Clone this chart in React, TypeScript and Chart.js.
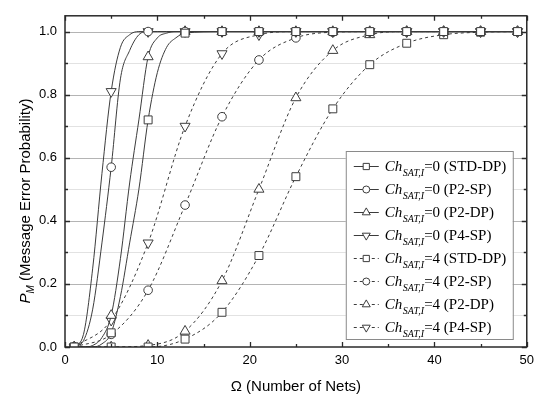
import React, { useEffect, useRef } from 'react';
import { Chart, registerables } from 'chart.js';

Chart.register(...registerables);

// x positions: fine sampling for the steep Ch=0 curves, marker positions every 4 nets
const xFine = [1, 2, 3, 4, 5, 6, 7, 8, 9, 10, 11, 12, 13, 17, 21, 25, 29, 33, 37, 41, 45, 49];
const xMarker = [1, 5, 9, 13, 17, 21, 25, 29, 33, 37, 41, 45, 49];

// Ch_SAT,I = 0 (values at xFine)
const ch0StdDp = [0, 0, 0, 0.01, 0.045, 0.16, 0.33, 0.5, 0.72, 0.87, 0.95, 0.98, 0.995, 1, 1, 1, 1, 1, 1, 1, 1, 1];
const ch0P2Sp = [0, 0.02, 0.12, 0.33, 0.57, 0.85, 0.94, 0.99, 1, 1, 1, 1, 1, 1, 1, 1, 1, 1, 1, 1, 1, 1];
const ch0P2Dp = [0, 0, 0.005, 0.03, 0.1, 0.28, 0.52, 0.72, 0.92, 0.98, 0.995, 1, 1, 1, 1, 1, 1, 1, 1, 1, 1, 1];
const ch0P4Sp = [0, 0.04, 0.25, 0.55, 0.81, 0.95, 0.99, 1, 1, 1, 1, 1, 1, 1, 1, 1, 1, 1, 1, 1, 1, 1];

// Ch_SAT,I = 4 (values at xMarker)
const ch4StdDp = [0, 0, 0, 0.025, 0.11, 0.29, 0.54, 0.755, 0.895, 0.963, 0.99, 0.998, 1];
const ch4P2Sp = [0, 0.04, 0.18, 0.45, 0.73, 0.91, 0.98, 0.998, 1, 1, 1, 1, 1];
const ch4P2Dp = [0, 0, 0.005, 0.05, 0.21, 0.5, 0.79, 0.94, 0.99, 1, 1, 1, 1];
const ch4P4Sp = [0, 0.085, 0.33, 0.7, 0.93, 0.99, 1, 1, 1, 1, 1, 1, 1];

const seriesLabels = ['(STD-DP)', '(P2-SP)', '(P2-DP)', '(P4-SP)'];
const chValues = ['0', '4'];

const X_MIN = 0;
const X_MAX = 50;
const Y_MIN = 0;
const Y_MAX = 1.05;

const LINE = '#3c3c3c';

type Shape = { style: string; rotation: number; radius: number; legendRadius: number };
const shapes: Shape[] = [
  { style: 'rect', rotation: 0, radius: 5.6, legendRadius: 4.4 },
  { style: 'circle', rotation: 0, radius: 4.3, legendRadius: 3.5 },
  { style: 'triangle', rotation: 0, radius: 5.8, legendRadius: 4.6 },
  { style: 'triangle', rotation: 180, radius: 5.8, legendRadius: 4.6 },
];

function isMarker(x: number) {
  return (x - 1) % 4 === 0;
}

function drawShape(ctx: CanvasRenderingContext2D, s: Shape, x: number, y: number, r: number) {
  ctx.save();
  ctx.fillStyle = '#fff';
  ctx.strokeStyle = LINE;
  ctx.lineWidth = 1;
  ctx.setLineDash([]);
  ctx.beginPath();
  if (s.style === 'rect') {
    const h = r * Math.SQRT1_2;
    ctx.rect(x - h, y - h, 2 * h, 2 * h);
  } else if (s.style === 'circle') {
    ctx.arc(x, y, r, 0, Math.PI * 2);
  } else {
    let a = (s.rotation * Math.PI) / 180;
    ctx.moveTo(x + Math.sin(a) * r, y - Math.cos(a) * r);
    a += (2 * Math.PI) / 3;
    ctx.lineTo(x + Math.sin(a) * r, y - Math.cos(a) * r);
    a += (2 * Math.PI) / 3;
    ctx.lineTo(x + Math.sin(a) * r, y - Math.cos(a) * r);
    ctx.closePath();
  }
  ctx.fill();
  ctx.stroke();
  ctx.restore();
}

const framePlugin = {
  id: 'framePlugin',
  beforeDatasetsDraw(chart: any) {
    const { ctx, chartArea: ca, scales } = chart;
    const ys = scales.y;
    ctx.save();
    for (let i = 1; i <= 10; i++) {
      const v = i / 10;
      const py = Math.round(ys.getPixelForValue(v)) + 0.5;
      ctx.strokeStyle = i % 2 === 0 ? '#b4b4b4' : '#e2e2e2';
      ctx.lineWidth = 1;
      ctx.beginPath();
      ctx.moveTo(ca.left, py);
      ctx.lineTo(ca.right, py);
      ctx.stroke();
    }
    ctx.restore();
  },
  afterDatasetsDraw(chart: any) {
    const { ctx, chartArea: ca, scales } = chart;
    const xs = scales.x;
    const ys = scales.y;
    ctx.save();
    ctx.strokeStyle = '#2a2a2a';
    ctx.lineWidth = 1.3;
    // ticks x
    for (let v = 0; v <= 50; v += 5) {
      const px = Math.round(xs.getPixelForValue(v)) + 0.5;
      const len = v % 10 === 0 ? 5 : 3;
      ctx.beginPath();
      ctx.moveTo(px, ca.bottom);
      ctx.lineTo(px, ca.bottom - len);
      ctx.moveTo(px, ca.top);
      ctx.lineTo(px, ca.top + len);
      ctx.stroke();
    }
    for (let i = 0; i <= 10; i++) {
      const py = Math.round(ys.getPixelForValue(i / 10)) + 0.5;
      const len = i % 2 === 0 ? 5 : 3;
      ctx.beginPath();
      ctx.moveTo(ca.left, py);
      ctx.lineTo(ca.left + len, py);
      ctx.moveTo(ca.right, py);
      ctx.lineTo(ca.right - len, py);
      ctx.stroke();
    }
    ctx.lineWidth = 1.5;
    ctx.strokeRect(ca.left, ca.top, ca.right - ca.left, ca.bottom - ca.top);
    ctx.restore();
  },
  afterDraw(chart: any) {
    const { ctx, chartArea: ca } = chart;
    ctx.save();
    // legend
    const bx = ca.right - 181;
    const by = 151;
    const bw = 167;
    const bh = ca.bottom - 8 - by;
    ctx.fillStyle = '#fff';
    ctx.fillRect(bx, by, bw, bh);
    ctx.strokeStyle = '#8a8a8a';
    ctx.lineWidth = 1;
    ctx.strokeRect(bx + 0.5, by + 0.5, bw, bh);
    let row = 0;
    for (let c = 0; c < 2; c++) {
      for (let s = 0; s < 4; s++) {
        const y = by + 15 + row * 23;
        const lx0 = bx + 8;
        const lx1 = bx + 33;
        ctx.strokeStyle = LINE;
        ctx.lineWidth = 1;
        ctx.setLineDash(c === 1 ? [3, 3] : []);
        ctx.beginPath();
        ctx.moveTo(lx0, y + 0.5);
        ctx.lineTo(lx1, y + 0.5);
        ctx.stroke();
        ctx.setLineDash([]);
        drawShape(ctx, shapes[s], (lx0 + lx1) / 2, y + 0.5, shapes[s].legendRadius);
        let tx = bx + 39;
        ctx.fillStyle = '#000';
        ctx.textBaseline = 'alphabetic';
        ctx.textAlign = 'left';
        ctx.font = 'italic 15px "Liberation Serif"';
        ctx.fillText('Ch', tx, y + 5);
        tx += ctx.measureText('Ch').width + 0.5;
        ctx.font = 'italic 10px "Liberation Serif"';
        ctx.fillText('SAT,I', tx, y + 10);
        tx += ctx.measureText('SAT,I').width;
        ctx.font = '15px "Liberation Serif"';
        ctx.fillText('=' + chValues[c] + ' ' + seriesLabels[s], tx, y + 5);
        row++;
      }
    }
    // x title
    ctx.fillStyle = '#000';
    ctx.font = '15px "Liberation Sans"';
    ctx.textAlign = 'center';
    ctx.textBaseline = 'middle';
    ctx.fillText('\u03A9 (Number of Nets)', (ca.left + ca.right) / 2, 387);
    // y title
    ctx.save();
    ctx.translate(25, 201);
    ctx.rotate(-Math.PI / 2);
    ctx.textAlign = 'left';
    ctx.textBaseline = 'alphabetic';
    const fP = 'italic 15px "Liberation Sans"';
    const fM = 'italic 10px "Liberation Sans"';
    const fR = '15px "Liberation Sans"';
    const rest = ' (Message Error Probability)';
    ctx.font = fP;
    const wP = ctx.measureText('P').width;
    ctx.font = fM;
    const wM = ctx.measureText('M').width;
    ctx.font = fR;
    const wR = ctx.measureText(rest).width;
    let tx = -(wP + wM + wR) / 2;
    ctx.font = fP;
    ctx.fillText('P', tx, 5);
    tx += wP;
    ctx.font = fM;
    ctx.fillText('M', tx, 9);
    tx += wM;
    ctx.font = fR;
    ctx.fillText(rest, tx, 5);
    ctx.restore();
    ctx.restore();
  },
};

export default function App() {
  const ref = useRef<HTMLCanvasElement | null>(null);
  useEffect(() => {
    if (!ref.current) return;
    const solid = [ch0StdDp, ch0P2Sp, ch0P2Dp, ch0P4Sp];
    const dashed = [ch4StdDp, ch4P2Sp, ch4P2Dp, ch4P4Sp];
    const datasets: any[] = [];
    solid.forEach((arr, s) => {
      datasets.push({
        label: 'Ch_SAT,I=0 ' + seriesLabels[s],
        data: xFine.map((x, i) => ({ x, y: arr[i] })),
        borderColor: LINE,
        borderWidth: 1,
        cubicInterpolationMode: 'monotone',
        pointStyle: shapes[s].style,
        rotation: shapes[s].rotation,
        pointRadius: (c: any) => (c.raw && isMarker(c.raw.x) ? shapes[s].radius : 0),
        pointBackgroundColor: '#fff',
        pointBorderColor: LINE,
        pointBorderWidth: 1,
        fill: false,
      });
    });
    dashed.forEach((arr, s) => {
      datasets.push({
        label: 'Ch_SAT,I=4 ' + seriesLabels[s],
        data: xMarker.map((x, i) => ({ x, y: arr[i] })),
        borderColor: LINE,
        borderWidth: 1,
        borderDash: [3, 3],
        cubicInterpolationMode: 'monotone',
        pointStyle: shapes[s].style,
        rotation: shapes[s].rotation,
        pointRadius: shapes[s].radius,
        pointBackgroundColor: '#fff',
        pointBorderColor: LINE,
        pointBorderWidth: 1,
        fill: false,
      });
    });
    const chart = new Chart(ref.current, {
      type: 'line',
      data: { datasets },
      options: {
        responsive: false,
        animation: false,
        layout: { padding: { left: 0, right: 13, top: 5, bottom: 0 } },
        plugins: { legend: { display: false }, tooltip: { enabled: false } },
        events: [],
        scales: {
          x: {
            type: 'linear',
            min: X_MIN,
            max: X_MAX,
            grid: { display: false, drawTicks: false },
            border: { display: false },
            ticks: {
              stepSize: 10,
              padding: 6,
              color: '#000',
              font: { family: '"Liberation Sans"', size: 13 },
              maxRotation: 0,
            },
            afterFit: (scale: any) => {
              scale.height = 50;
            },
          },
          y: {
            type: 'linear',
            min: Y_MIN,
            max: Y_MAX,
            grid: { display: false, drawTicks: false },
            border: { display: false },
            ticks: {
              stepSize: 0.1,
              padding: 8,
              color: '#000',
              font: { family: '"Liberation Sans"', size: 13 },
              autoSkip: false,
              callback: (v: any) => {
                const t = Number(v) * 10;
                const r = Math.round(t);
                if (Math.abs(t - r) > 1e-6) return '';
                return r % 2 === 0 ? (r / 10).toFixed(1) : '';
              },
            },
            afterFit: (scale: any) => {
              scale.width = 65;
            },
          },
        },
      },
      plugins: [framePlugin],
    });
    return () => chart.destroy();
  }, []);
  return (
    <div style={{ position: 'absolute', left: 0, top: 0, width: 540, height: 397, background: '#fff' }}>
      <canvas ref={ref} width={540} height={397} style={{ width: 540, height: 397 }} />
    </div>
  );
}
